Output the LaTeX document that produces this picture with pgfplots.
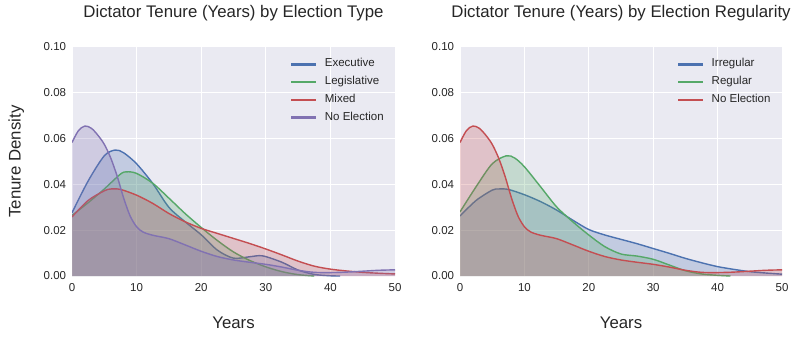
\documentclass[border=0pt]{standalone}
\usepackage{fontspec}
\setmainfont{Liberation Sans}
\usepackage{pgfplots}
\usepackage{pgfplotstable}
\pgfplotsset{compat=1.18}
\definecolor{sbblue}{HTML}{4C72B0}
\definecolor{sbgreen}{HTML}{55A868}
\definecolor{sbred}{HTML}{C44E52}
\definecolor{sbpurple}{HTML}{8172B2}
\definecolor{bg}{HTML}{EAEAF2}
\definecolor{txt}{HTML}{262626}

\pgfplotstableread{
x y
0 0.0276
2.5 0.0415
5 0.0525
6.7 0.0550
8 0.0538
10 0.0490
12.5 0.0404
15 0.0300
17.5 0.0237
20 0.0180
22.5 0.0113
25 0.0078
27.5 0.0084
29.5 0.0088
32.5 0.0060
35 0.0026
37.5 0.0007
40 0.0001
41.5 0.0
}\executive
\pgfplotstableread{
x y
0 0.0265
2.5 0.0320
5 0.0380
7.5 0.0445
8.5 0.0455
10 0.0448
12.5 0.0405
15 0.0340
17.5 0.0273
20 0.0212
22.5 0.0155
25 0.0105
27.5 0.0068
30 0.0040
32.5 0.0019
35 0.0006
37.5 0.0
}\legislative
\pgfplotstableread{
x y
0 0.0258
2.5 0.0330
5 0.0372
6 0.0380
7.5 0.0378
10 0.0353
12.5 0.0317
15 0.0273
17.5 0.0237
20 0.0208
22.5 0.0186
25 0.0164
27.5 0.0142
30 0.0118
32.5 0.0092
35 0.0065
37.5 0.0043
40 0.0030
42.5 0.0022
45 0.0016
47.5 0.0012
50 0.0009
}\mixed
\pgfplotstableread{
x y
0 0.0583
1 0.0635
2 0.0655
3 0.0645
4 0.0615
5 0.0575
6 0.0515
7 0.0435
8 0.0340
9 0.0262
10 0.0215
11 0.0192
12.5 0.0178
15 0.0163
17.5 0.0136
20 0.0108
22.5 0.0085
25 0.0070
27.5 0.0060
30 0.0051
32.5 0.0039
35 0.0025
37.5 0.0016
40 0.0015
42.5 0.0017
45 0.0021
47.5 0.0025
50 0.0027
}\noelection
\pgfplotstableread{
x y
0 0.0262
2.5 0.0330
5 0.0375
6 0.0380
7.5 0.0378
10 0.0355
12.5 0.0325
15 0.0288
17.5 0.0244
20 0.0203
22.5 0.0179
25 0.0160
27.5 0.0141
30 0.0120
32.5 0.0099
35 0.0077
37.5 0.0058
40 0.0041
42.5 0.0029
45 0.0019
47.5 0.0013
50 0.0008
}\irregular
\pgfplotstableread{
x y
0 0.0280
2.5 0.0390
5 0.0490
7.2 0.0525
8.5 0.0515
10 0.0477
12.5 0.0390
15 0.0302
17.5 0.0237
20 0.0179
22.5 0.0128
25 0.0096
27.5 0.0087
30 0.0073
32.5 0.0048
35 0.0023
37.5 0.0009
40 0.0003
42 0.0
}\regular

\pgfplotsset{
  sbstyle/.style={
    scale only axis, width=323bp, height=229bp,
    xmin=0, xmax=50, ymin=0, ymax=0.1,
    xtick={0,10,20,30,40,50},
    ytick={0,0.02,0.04,0.06,0.08,0.1},
    grid=major, grid style={white, line width=1bp},
    axis line style={draw=none},
    major tick length=0pt,
    axis background/.style={fill=bg},
    /pgf/number format/assume math mode=true,
    tick label style={font=\fontsize{11.5bp}{13bp}\selectfont, text=txt},
    yticklabel style={/pgf/number format/fixed, /pgf/number format/fixed zerofill, /pgf/number format/precision=2, anchor=east, inner sep=0pt, xshift=-5.7bp},
    xticklabel style={anchor=base, inner sep=0pt, yshift=-15.7bp},
    title style={font=\fontsize{16.8bp}{20bp}\selectfont, text=txt, at={(0.5,1)}, anchor=base, yshift=24bp},
    xlabel style={font=\fontsize{16.8bp}{20bp}\selectfont, text=txt, at={(axis description cs:0.5,0)}, anchor=base, yshift=-52.3bp},
    ylabel style={font=\fontsize{16.8bp}{20bp}\selectfont, text=txt, at={(axis description cs:-0.1588,0.5)}, anchor=base},
    legend style={draw=none, fill=none, anchor=north west, inner sep=0pt, row sep=6.8bp,
      font=\fontsize{11.5bp}{13bp}\selectfont, text=txt,
      nodes={inner sep=0pt, text height=8.5bp, text depth=2.5bp},
      /tikz/every odd column/.append style={column sep=9.3bp}},
    legend cell align=left,
  }
}

\begin{document}
\begin{tikzpicture}[x=1bp,y=1bp]
\path[use as bounding box] (0,0) rectangle (800,338);
\begin{axis}[sbstyle, at={(72bp,62bp)}, anchor=south west,
  title={Dictator Tenure (Years) by Election Type},
  xlabel={Years}, ylabel={Tenure Density},
  legend style={at={(axis description cs:0.677,0.9507)}}]
\addlegendimage{legend image code/.code={\fill[sbblue] (0bp,-0.8bp) rectangle (24.3bp,0.8bp);}}
\addlegendentry{Executive}
\addlegendimage{legend image code/.code={\fill[sbgreen] (0bp,-0.8bp) rectangle (24.3bp,0.8bp);}}
\addlegendentry{Legislative}
\addlegendimage{legend image code/.code={\fill[sbred] (0bp,-0.8bp) rectangle (24.3bp,0.8bp);}}
\addlegendentry{Mixed}
\addlegendimage{legend image code/.code={\fill[sbpurple] (0bp,-0.8bp) rectangle (24.3bp,0.8bp);}}
\addlegendentry{No Election}
\addplot[smooth, sbblue, line width=1.4bp, forget plot] table {\executive};
\addplot[smooth, fill=sbblue, fill opacity=0.25, draw=none, forget plot] table {\executive} \closedcycle;
\addplot[smooth, sbgreen, line width=1.4bp, forget plot] table {\legislative};
\addplot[smooth, fill=sbgreen, fill opacity=0.25, draw=none, forget plot] table {\legislative} \closedcycle;
\addplot[smooth, sbred, line width=1.4bp, forget plot] table {\mixed};
\addplot[smooth, fill=sbred, fill opacity=0.25, draw=none, forget plot] table {\mixed} \closedcycle;
\addplot[smooth, sbpurple, line width=1.4bp, forget plot] table {\noelection};
\addplot[smooth, fill=sbpurple, fill opacity=0.25, draw=none, forget plot] table {\noelection} \closedcycle;
\end{axis}
\begin{axis}[sbstyle, at={(460bp,62bp)}, anchor=south west, width=322bp,
  title={Dictator Tenure (Years) by Election Regularity},
  xlabel={Years},
  legend style={at={(axis description cs:0.6755,0.9507)}}]
\addlegendimage{legend image code/.code={\fill[sbblue] (0bp,-0.8bp) rectangle (24.3bp,0.8bp);}}
\addlegendentry{Irregular}
\addlegendimage{legend image code/.code={\fill[sbgreen] (0bp,-0.8bp) rectangle (24.3bp,0.8bp);}}
\addlegendentry{Regular}
\addlegendimage{legend image code/.code={\fill[sbred] (0bp,-0.8bp) rectangle (24.3bp,0.8bp);}}
\addlegendentry{No Election}
\addplot[smooth, sbblue, line width=1.4bp, forget plot] table {\irregular};
\addplot[smooth, fill=sbblue, fill opacity=0.25, draw=none, forget plot] table {\irregular} \closedcycle;
\addplot[smooth, sbgreen, line width=1.4bp, forget plot] table {\regular};
\addplot[smooth, fill=sbgreen, fill opacity=0.25, draw=none, forget plot] table {\regular} \closedcycle;
\addplot[smooth, sbred, line width=1.4bp, forget plot] table {\noelection};
\addplot[smooth, fill=sbred, fill opacity=0.25, draw=none, forget plot] table {\noelection} \closedcycle;
\end{axis}
\end{tikzpicture}
\end{document}
